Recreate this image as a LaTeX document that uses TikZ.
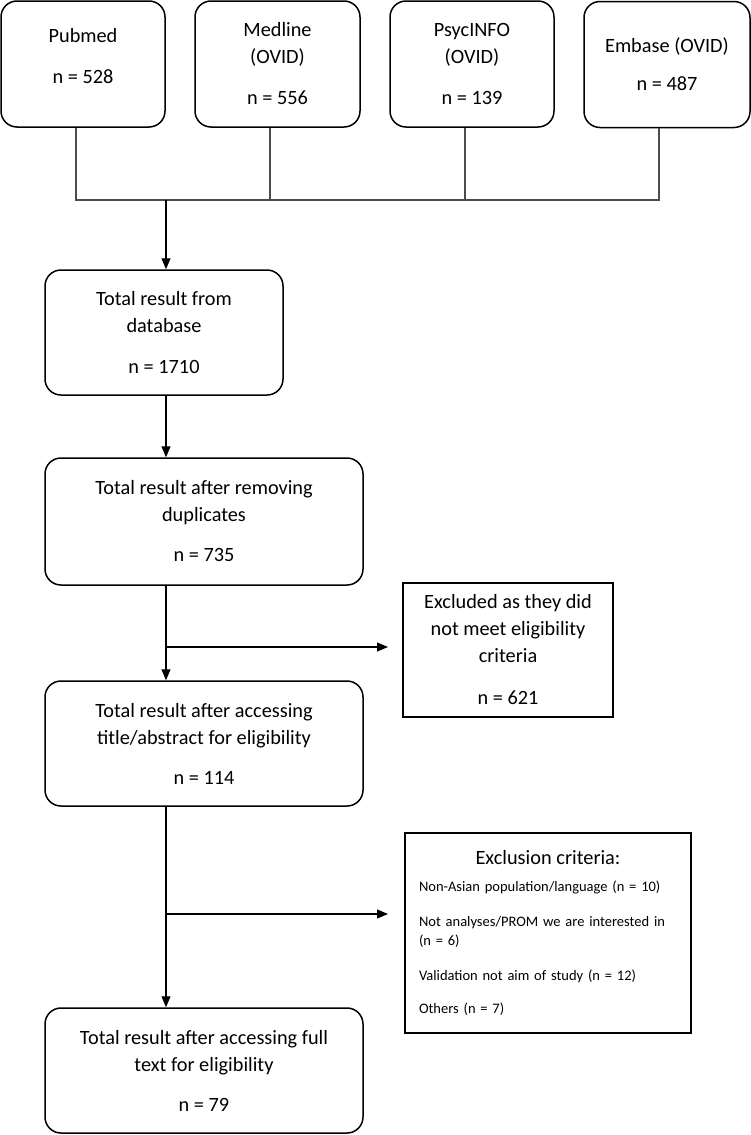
\documentclass[tikz,border=0pt]{standalone}
\usepackage{fontspec}
\setmainfont{Carlito}
\usetikzlibrary{arrows.meta,calc}
\begin{document}
\begin{tikzpicture}[x=1pt,y=-1pt,
  rbox/.style={draw=black,line width=1.5pt,rounded corners=16pt,align=center,inner sep=0pt,
    font=\fontsize{20.3}{27}\selectfont},
  sbox/.style={draw=black,line width=1.5pt,align=center,inner sep=0pt,
    font=\fontsize{20.3}{27}\selectfont},
  conn/.style={draw=black!70,line width=1.2pt},
  arr/.style={draw=black,line width=1.1pt,-{Triangle[length=11pt,width=9pt]}}
]
\useasboundingbox (0,0) rectangle (751,1135);
% top row
\node[rbox,minimum width=164pt,minimum height=126pt] (pub) at (83,64) {Pubmed\\[14pt]n = 528\\[-11pt]\mbox{}};
\node[rbox,minimum width=165pt,minimum height=126pt] (med) at (277.5,64) {Medline\\(OVID)\\[14pt]n = 556};
\node[rbox,minimum width=164pt,minimum height=126pt] (psy) at (472,64) {PsycINFO\\(OVID)\\[14pt]n = 139};
\node[rbox,minimum width=166pt,minimum height=126pt] (emb) at (667,64.5) {Embase (OVID)\\[11pt]n = 487};
% main column
\node[rbox,minimum width=238pt,minimum height=125pt] (b1) at (164,332.5) {Total result from\\database\\[14pt]n = 1710};
\node[rbox,minimum width=318pt,minimum height=127pt] (b2) at (204,521.5) {Total result after removing\\duplicates\\[13pt]n = 735};
\node[rbox,minimum width=318pt,minimum height=125pt] (b3) at (204,743.5) {Total result after accessing\\title/abstract for eligibility\\[13pt]n = 114};
\node[rbox,minimum width=318pt,minimum height=125pt] (b4) at (204,1070.5) {Total result after accessing full\\text for eligibility\\[13pt]n = 79};
% exclusion boxes
\node[sbox,minimum width=210pt,minimum height=134pt] (ex1) at (508,650) {Excluded as they did\\not meet eligibility\\criteria\\[15pt]n = 621};
\node[sbox,minimum width=286pt,minimum height=200pt,text width=258pt,align=left,
  font=\fontsize{14.5}{19}\selectfont] (ex2) at (548,933)
  {\makebox[258pt]{\fontsize{20.3}{27}\selectfont Exclusion criteria:}\\[8pt]
   Non-Asian population/language (n = 10)\\[16pt]
   Not analyses/PROM we are interested in\\(n = 6)\\[16pt]
   Validation not aim of study (n = 12)\\[14pt]
   Others (n = 7)};
% junctions
\coordinate (j1) at (76,200);
\coordinate (j2) at (270,200);
\coordinate (j3) at (465,200);
\coordinate (j4) at (659,200);
\coordinate (jc) at (166,200);
\coordinate (k1) at (166,647);
\coordinate (k2) at (166,914);
\coordinate (t1) at (388,647);
\coordinate (t2) at (388,914);
\draw[conn] (pub.south -| j1) -- (j1) -- (j4) -- (emb.south -| j4);
\draw[conn] (med.south -| j2) -- (j2);
\draw[conn] (psy.south -| j3) -- (j3);
\draw[arr] (jc) -- (b1.north -| jc);
\draw[arr] (b1.south -| jc) -- (b2.north -| jc);
\draw[arr] (b2.south -| jc) -- (b3.north -| jc);
\draw[arr] (b3.south -| jc) -- (b4.north -| jc);
\draw[arr] (k1) -- (t1);
\draw[arr] (k2) -- (t2);
\end{tikzpicture}
\end{document}
